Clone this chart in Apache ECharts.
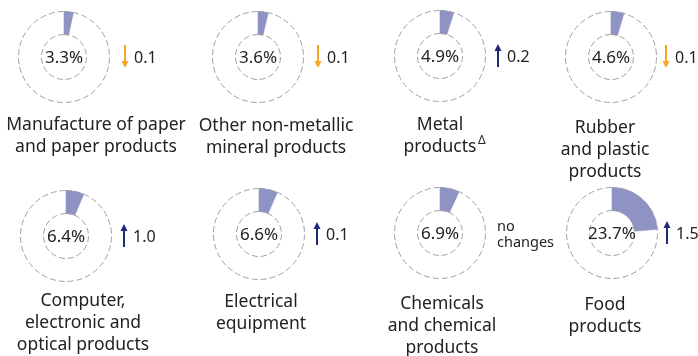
<!DOCTYPE html>
<html>
<head>
<meta charset="utf-8">
<script src="https://cdn.jsdelivr.net/npm/echarts@6/dist/echarts.min.js"></script>
<style>
  html, body { margin: 0; padding: 0; background: #fff; }
  #chart { width: 698px; height: 356px; }
</style>
</head>
<body>
<div id="chart"></div>
<script>
// data
const categories = [
  "Manufacture of paper\nand paper products",
  "Other non-metallic\nmineral products",
  "Metal\nproducts",
  "Rubber\nand plastic\nproducts",
  "Computer,\nelectronic and\noptical products",
  "Electrical\nequipment",
  "Chemicals\nand chemical\nproducts",
  "Food\nproducts"
];
const shares = [3.3, 3.6, 4.9, 4.6, 6.4, 6.6, 6.9, 23.7];
// change vs previous period, null = no changes
const changes = [-0.1, -0.1, 0.2, -0.1, 1.0, 0.1, null, 1.5];
const footnoteIdx = 2; // "Metal products" carries the Δ mark

// layout (pixels)
const centers = [[64, 57], [258, 57], [440, 56], [611, 57], [66, 236], [259, 234], [440, 233], [612, 233]];
const labelPos = [[96, 114], [276, 115], [440, 114], [605, 117], [83, 290], [261, 291], [442, 293], [605, 294]];
const arrowDx = [61, 60, 58, 55, 58, 58, 57, 55];
const R_IN = 22.5, R_OUT = 45.5;

const FONT = '"Noto Sans", "Open Sans", sans-serif';
const WEDGE = "#8e93c4";
const UP = "#1c2b7c";
const DOWN = "#f5a623";
const TEXT = "#222";

const chart = echarts.init(document.getElementById("chart"));

const polar = [], angleAxis = [], radiusAxis = [], series = [];
shares.forEach((v, i) => {
  polar.push({ center: centers[i], radius: [R_IN, R_OUT] });
  angleAxis.push({ polarIndex: i, type: "value", min: 0, max: 100, startAngle: 90, clockwise: true, show: false });
  radiusAxis.push({ polarIndex: i, type: "category", data: [""], show: false });
  series.push({
    type: "bar",
    coordinateSystem: "polar",
    polarIndex: i,
    silent: true,
    clip: false,
    z: 1,
    barCategoryGap: "0%",
    itemStyle: { color: WEDGE, borderColor: WEDGE, borderWidth: 0.6 },
    data: [v]
  });
  // dashed ring outline, drawn above the wedge
  series.push({
    type: "pie",
    silent: true,
    z: 2,
    center: centers[i],
    radius: [R_IN, R_OUT],
    label: { show: false },
    labelLine: { show: false },
    itemStyle: { color: "none", borderColor: "#a0a0a0", borderWidth: 1, borderType: [6, 3] },
    data: [{ value: 1 }]
  });
});

const graphic = [];
categories.forEach((name, i) => {
  const [lx, ly] = labelPos[i];
  graphic.push({
    type: "text",
    silent: true,
    style: {
      text: name,
      x: lx,
      y: ly,
      textAlign: "center",
      textVerticalAlign: "top",
      font: "17.5px " + FONT,
      lineHeight: 22,
      fill: TEXT
    }
  });
});

// percent in the middle of each ring
shares.forEach((v, i) => {
  graphic.push({
    type: "text",
    silent: true,
    z: 10,
    style: {
      text: v.toFixed(1) + "%",
      x: centers[i][0],
      y: centers[i][1] + 1,
      textAlign: "center",
      textVerticalAlign: "middle",
      font: "17px " + FONT,
      fill: TEXT
    }
  });
});

// Δ footnote mark
graphic.push({
  type: "text",
  silent: true,
  style: {
    text: "Δ",
    x: labelPos[footnoteIdx][0] + 38,
    y: labelPos[footnoteIdx][1] + 21,
    textAlign: "left",
    textVerticalAlign: "top",
    font: "12px " + FONT,
    fill: TEXT
  }
});

changes.forEach((d, i) => {
  const [cx, cy] = centers[i];
  if (d === null) {
    graphic.push({
      type: "text",
      silent: true,
      style: {
        text: "no\nchanges",
        x: cx + 57,
        y: cy - 14,
        textAlign: "left",
        textVerticalAlign: "top",
        font: "14.5px " + FONT,
        lineHeight: 16,
        fill: TEXT
      }
    });
    return;
  }
  const up = d > 0;
  const col = up ? UP : DOWN;
  const ax = cx + arrowDx[i];
  const top = cy - 12, bot = cy + 11;
  graphic.push({
    type: "line",
    silent: true,
    shape: up ? { x1: ax, y1: top + 6, x2: ax, y2: bot } : { x1: ax, y1: top, x2: ax, y2: bot - 6 },
    style: { stroke: col, lineWidth: 2 }
  });
  graphic.push({
    type: "polygon",
    silent: true,
    shape: {
      points: up
        ? [[ax - 3.5, top + 7], [ax + 3.5, top + 7], [ax, top]]
        : [[ax - 3.5, bot - 7], [ax + 3.5, bot - 7], [ax, bot]]
    },
    style: { fill: col }
  });
  graphic.push({
    type: "text",
    silent: true,
    style: {
      text: Math.abs(d).toFixed(1),
      x: ax + 9,
      y: cy + 1,
      textAlign: "left",
      textVerticalAlign: "middle",
      font: "16px " + FONT,
      fill: TEXT
    }
  });
});

chart.setOption({
  animation: false,
  polar: polar,
  angleAxis: angleAxis,
  radiusAxis: radiusAxis,
  series: series,
  graphic: graphic
});
</script>
</body>
</html>
